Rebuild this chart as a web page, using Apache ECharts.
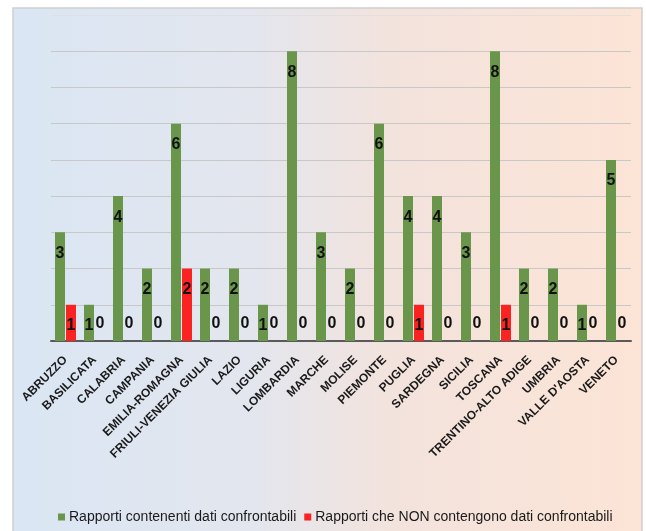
<!DOCTYPE html>
<html>
<head>
<meta charset="utf-8">
<script src="https://cdn.jsdelivr.net/npm/echarts@6/dist/echarts.min.js"></script>
<style>
  html, body { margin: 0; padding: 0; background: #ffffff; }
  #chart { width: 646px; height: 531px; }
</style>
</head>
<body>
<div id="chart"></div>
<script>
// Regions and report counts
const regions = [
  'ABRUZZO', 'BASILICATA', 'CALABRIA', 'CAMPANIA', 'EMILIA-ROMAGNA',
  'FRIULI-VENEZIA GIULIA', 'LAZIO', 'LIGURIA', 'LOMBARDIA', 'MARCHE',
  'MOLISE', 'PIEMONTE', 'PUGLIA', 'SARDEGNA', 'SICILIA', 'TOSCANA',
  'TRENTINO-ALTO ADIGE', 'UMBRIA', "VALLE D'AOSTA", 'VENETO'
];
const comparable = [3, 1, 4, 2, 6, 2, 2, 1, 8, 3, 2, 6, 4, 4, 3, 8, 2, 2, 1, 5];
const notComparable = [1, 0, 0, 0, 2, 0, 0, 0, 0, 0, 0, 0, 1, 0, 0, 1, 0, 0, 0, 0];
const seriesNames = [
  'Rapporti contenenti dati confrontabili',
  'Rapporti che NON contengono dati confrontabili'
];
const yMax = 9;

const labelFont = {
  show: true,
  position: 'insideTop',
  distance: 13,
  fontFamily: 'Liberation Sans, Arial, sans-serif',
  fontWeight: 'bold',
  fontSize: 16,
  color: '#111111'
};

// zero-height bars carry their label just above the axis
function withLabels(values) {
  return values.map(v => v === 0
    ? { value: v, label: { position: 'top', distance: 9 } }
    : v);
}

// gridline colours: the topmost line is fainter
const gridColors = [];
for (let i = 0; i <= yMax; i++) gridColors.push(i === yMax ? '#e0e0e0' : '#c8c8c8');

const chart = echarts.init(document.getElementById('chart'), null, { renderer: 'canvas' });
chart.setOption({
  backgroundColor: '#ffffff',
  animation: false,
  graphic: [{
    type: 'rect',
    z: -10,
    silent: true,
    shape: { x: 13, y: 8, width: 629, height: 540 },
    style: {
      fill: new echarts.graphic.LinearGradient(0, 0, 1, 0, [
        { offset: 0, color: '#dae6f4' },
        { offset: 0.38, color: '#e3e6ee' },
        { offset: 0.6, color: '#f3e3dd' },
        { offset: 1, color: '#fce4d6' }
      ]),
      stroke: '#cfcfcf',
      lineWidth: 1.5
    }
  }],
  grid: { left: 51, right: 15, top: 15, bottom: 190, containLabel: false },
  xAxis: {
    type: 'category',
    data: regions,
    axisLine: { lineStyle: { color: '#5a5a5a', width: 2 } },
    axisTick: { show: false },
    axisLabel: {
      interval: 0,
      rotate: 45,
      margin: 17,
      fontFamily: 'Liberation Sans, Arial, sans-serif',
      fontWeight: 'bold',
      fontSize: 12,
      color: '#1a1a1a'
    }
  },
  yAxis: {
    type: 'value',
    min: 0,
    max: yMax,
    interval: 1,
    axisLine: { show: false },
    axisTick: { show: false },
    axisLabel: { show: false },
    splitLine: { lineStyle: { color: gridColors, width: 1 } }
  },
  legend: {
    left: 53,
    top: 505,
    icon: 'rect',
    itemWidth: 7,
    itemHeight: 7,
    itemGap: 8,
    textStyle: {
      fontFamily: 'Liberation Sans, Arial, sans-serif',
      fontSize: 14,
      color: '#1a1a1a',
      padding: [0, 0, 0, -1]
    },
    data: seriesNames
  },
  series: [
    {
      name: seriesNames[0],
      type: 'bar',
      barWidth: 10,
      barGap: '10%',
      itemStyle: { color: '#6a964b' },
      label: labelFont,
      data: withLabels(comparable)
    },
    {
      name: seriesNames[1],
      type: 'bar',
      barWidth: 10,
      barGap: '10%',
      itemStyle: { color: '#fb2222' },
      label: labelFont,
      data: withLabels(notComparable)
    }
  ]
});
</script>
</body>
</html>
